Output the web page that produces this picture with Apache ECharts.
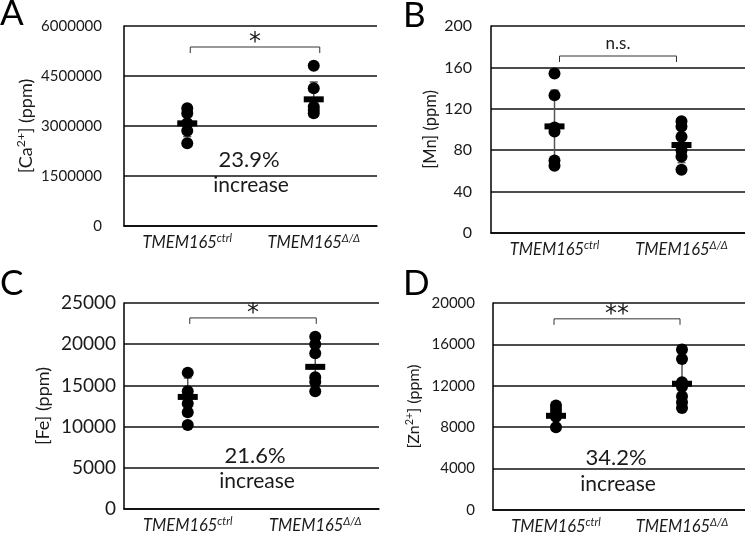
<!DOCTYPE html>
<html><head><meta charset="utf-8">
<script src="https://cdn.jsdelivr.net/npm/echarts@6/dist/echarts.min.js"></script>
<style>html,body{margin:0;padding:0;background:#fff}#c{width:745px;height:535px}</style>
</head><body><div id="c"></div>
<script>
// ---------- data ----------
const groups = ['ctrl', 'Δ/Δ'];
const panelLetters = ['A', 'B', 'C', 'D'];
const yNames = [['[Ca', '2+', '] (ppm)'], ['[Mn] (ppm)', '', ''], ['[Fe] (ppm)', '', ''], ['[Zn', '2+', '] (ppm)']];
const yMax = [6000000, 200, 25000, 20000];
const yInterval = [1500000, 40, 5000, 4000];

const caCtrl = [3530000, 3380000, 3080000, 2860000, 2480000];
const caKo = [4810000, 4130000, 3580000, 3480000, 3380000];
const mnCtrl = [154, 133, 102, 98, 70, 65];
const mnKo = [108, 103, 93, 80, 74, 61];
const feCtrl = [16550, 14300, 12800, 11750, 10200];
const feKo = [20900, 20000, 18900, 16000, 15400, 14300];
const znCtrl = [10100, 9700, 9300, 9000, 8000];
const znKo = [15500, 14600, 12350, 11900, 11000, 10400, 9850];

const means = [[3080000, 3800000], [103, 85], [13600, 17250], [9100, 12200]];
const sds = [[400000, 520000], [35, 17], [2300, 2600], [800, 2100]];
const bracketY = [5370000, 171, 23190, 18470];
const sigLabels = ['*', 'n.s.', '*', '**'];
const pctLabels = ['23.9%', null, '21.6%', '34.2%'];

const points = [[caCtrl, caKo], [mnCtrl, mnKo], [feCtrl, feKo], [znCtrl, znKo]];

// ---------- layout / style ----------
const grids = [
  {left: 124, top: 26, width: 253, height: 200},
  {left: 491, top: 26, width: 259, height: 207},
  {left: 124, top: 303, width: 255, height: 206},
  {left: 493, top: 303, width: 252, height: 210}
];
const tickFont = [15, 16, 19, 15];
const nameFont = [18, 16.5, 18, 16];
const yLabelMargin = [22, 19, 8, 18];
const yNameGap = [89, 52, 72, 71];
const bracketOff = [[3, 6], [5, -5], [2, 1], [-2, -2]];
const FONT = 'Lato';
const TXT = '#1a1a1a';

const chart = echarts.init(document.getElementById('c'), null, {renderer: 'canvas'});

const xAxes = [], yAxes = [], series = [];
for (let i = 0; i < 4; i++) {
  xAxes.push({
    type: 'category', gridIndex: i, data: groups, boundaryGap: true,
    axisLine: {lineStyle: {color: '#000', width: 1.5}},
    axisTick: {show: false},
    axisLabel: {
      margin: 7, fontFamily: FONT, interval: 0, hideOverlap: false,
      formatter: v => '{it|TMEM165}{sup|' + v + '}',
      rich: {
        it: {fontSize: 16.5, fontStyle: 'italic', color: TXT, fontFamily: FONT, lineHeight: 18, verticalAlign: 'bottom'},
        sup: {fontSize: 11, fontStyle: 'italic', color: TXT, fontFamily: FONT, lineHeight: 18, verticalAlign: 'top'}
      }
    },
    splitLine: {show: false}
  });
  const nm = yNames[i];
  const nf = nameFont[i];
  yAxes.push({
    type: 'value', gridIndex: i, min: 0, max: yMax[i], interval: yInterval[i],
    name: nm[1] ? '{n|' + nm[0] + '}{s|' + nm[1] + '}{n|' + nm[2] + '}' : '{n|' + nm[0] + '}',
    nameLocation: 'middle', nameGap: yNameGap[i], nameRotate: 90,
    nameTextStyle: {
      fontFamily: FONT,
      rich: {
        n: {fontSize: nf, color: TXT, fontFamily: FONT, lineHeight: nf + 2, verticalAlign: 'bottom'},
        s: {fontSize: nf * 0.68, color: TXT, fontFamily: FONT, lineHeight: nf + 2, verticalAlign: 'top'}
      }
    },
    axisLine: {show: true, lineStyle: {color: '#000', width: 1.5}},
    axisTick: {show: false},
    axisLabel: {margin: yLabelMargin[i], fontSize: tickFont[i], color: TXT, fontFamily: FONT, formatter: v => String(v)},
    splitLine: {show: true, lineStyle: {color: '#111', width: 1.5}}
  });

  // error bars (mean ± SD)
  series.push({
    type: 'custom', xAxisIndex: i, yAxisIndex: i, z: 3,
    data: [0, 1].map(g => [g, means[i][g], sds[i][g]]),
    renderItem: (params, api) => {
      const g = api.value(0), m = api.value(1), s = api.value(2);
      const top = api.coord([g, m + s]), bot = api.coord([g, m - s]);
      const st = {stroke: '#555', lineWidth: 1.5};
      return {type: 'group', children: [
        {type: 'line', shape: {x1: top[0], y1: top[1], x2: bot[0], y2: bot[1]}, style: st},
        {type: 'line', shape: {x1: top[0] - 4, y1: top[1], x2: top[0] + 4, y2: top[1]}, style: st},
        {type: 'line', shape: {x1: bot[0] - 4, y1: bot[1], x2: bot[0] + 4, y2: bot[1]}, style: st}
      ]};
    }
  });
  // individual points
  const dots = [];
  points[i].forEach((arr, g) => arr.forEach(v => dots.push([g, v])));
  series.push({
    type: 'scatter', xAxisIndex: i, yAxisIndex: i, z: 4, symbol: 'circle', symbolSize: 12,
    itemStyle: {color: '#000', opacity: 1}, data: dots
  });
  // mean bars
  series.push({
    type: 'scatter', xAxisIndex: i, yAxisIndex: i, z: 5, symbol: 'rect', symbolSize: [20, 6],
    itemStyle: {color: '#000', opacity: 1}, data: [0, 1].map(g => [g, means[i][g]])
  });
  // significance bracket
  series.push({
    type: 'custom', xAxisIndex: i, yAxisIndex: i, z: 6,
    data: [[0, 1, bracketY[i]]],
    renderItem: ((idx) => (params, api) => {
      const a = api.coord([api.value(0), api.value(2)]);
      const b = api.coord([api.value(1), api.value(2)]);
      const x1 = a[0] + bracketOff[idx][0], x2 = b[0] + bracketOff[idx][1], y = a[1];
      const star = idx !== 1;
      return {type: 'group', children: [
        {type: 'polyline', shape: {points: [[x1, y + 6], [x1, y], [x2, y], [x2, y + 6]]},
          style: {stroke: '#333', lineWidth: 1, fill: null}},
        {type: 'text', style: {text: sigLabels[idx], x: (x1 + x2) / 2, y: star ? y - 4 : y - 12,
          align: 'center', verticalAlign: 'middle', fontSize: star ? 24 : 17,
          fontFamily: star ? 'DejaVu Sans' : FONT, fill: TXT}}
      ]};
    })(i)
  });
}

const graphic = [];
const letterPos = [[0, -4], [403, -2], [0, 266], [403, 266]];
panelLetters.forEach((L, i) => graphic.push({type: 'text', x: letterPos[i][0], y: letterPos[i][1],
  style: {text: L, fontSize: 35, fontFamily: FONT, fill: '#000', verticalAlign: 'top'}}));
const pctPos = [[249, 160, 185], null, [255, 456, 481], [616, 458, 484]];
pctLabels.forEach((t, i) => {
  if (!t) return;
  graphic.push({type: 'text', x: pctPos[i][0], y: pctPos[i][1],
    style: {text: t, fontSize: 22, fontFamily: FONT, fill: TXT, align: 'center', verticalAlign: 'middle'}});
  graphic.push({type: 'text', x: pctPos[i][0] + 2, y: pctPos[i][2],
    style: {text: 'increase', fontSize: 21, fontFamily: FONT, fill: TXT, align: 'center', verticalAlign: 'middle'}});
});

chart.setOption({
  animation: false,
  backgroundColor: '#fff',
  grid: grids.map(g => Object.assign({containLabel: false}, g)),
  xAxis: xAxes, yAxis: yAxes, series, graphic
});
</script></body></html>
